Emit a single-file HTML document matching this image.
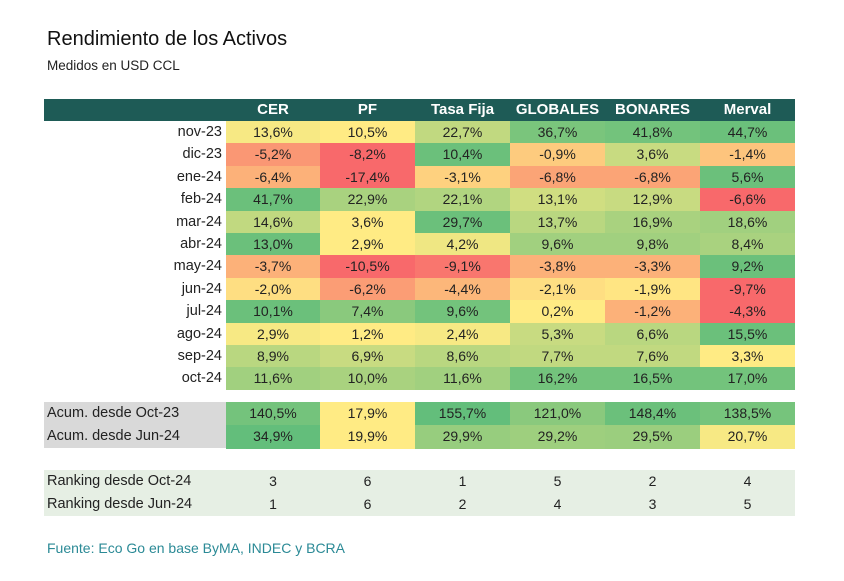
<!DOCTYPE html>
<html><head><meta charset="utf-8"><style>
body{margin:0;background:#fff;width:844px;height:581px;overflow:hidden;font-family:"Liberation Sans","DejaVu Sans",sans-serif;position:relative}
.t{position:absolute;white-space:nowrap}
.cell{position:absolute;text-align:center;font-size:14px;color:#222;box-sizing:border-box}
</style></head><body>
<div class="t" style="left:47px;top:28px;font-size:20px;color:#111">Rendimiento de los Activos</div>
<div class="t" style="left:47px;top:58px;font-size:13.5px;color:#222">Medidos en USD CCL</div>
<div id="tbl"></div>
<div class="t" style="left:47px;top:540px;font-size:14px;color:#2b8a96">Fuente: Eco Go en base ByMA, INDEC y BCRA</div>
<script>
const assets=["CER","PF","Tasa Fija","GLOBALES","BONARES","Merval"];
const months=["nov-23","dic-23","ene-24","feb-24","mar-24","abr-24","may-24","jun-24","jul-24","ago-24","sep-24","oct-24"];
const CER=[13.6,-5.2,-6.4,41.7,14.6,13.0,-3.7,-2.0,10.1,2.9,8.9,11.6];
const PF=[10.5,-8.2,-17.4,22.9,3.6,2.9,-10.5,-6.2,7.4,1.2,6.9,10.0];
const TASA=[22.7,10.4,-3.1,22.1,29.7,4.2,-9.1,-4.4,9.6,2.4,8.6,11.6];
const GLOBALES=[36.7,-0.9,-6.8,13.1,13.7,9.6,-3.8,-2.1,0.2,5.3,7.7,16.2];
const BONARES=[41.8,3.6,-6.8,12.9,16.9,9.8,-3.3,-1.9,-1.2,6.6,7.6,16.5];
const MERVAL=[44.7,-1.4,5.6,-6.6,18.6,8.4,9.2,-9.7,-4.3,15.5,3.3,17.0];
const acumLabels=["Acum. desde Oct-23","Acum. desde Jun-24"];
const acumOct=[140.5,17.9,155.7,121.0,148.4,138.5];
const acumJun=[34.9,19.9,29.9,29.2,29.5,20.7];
const rankLabels=["Ranking desde Oct-24","Ranking desde Jun-24"];
const rankOct=[3,6,1,5,2,4];
const rankJun=[1,6,2,4,3,5];
// colour level per cell as shown in the source (-1 red, 0 yellow, 1 green)
const colorLevels=[
[0.05,0,0.4,0.85,0.9,0.95],
[-0.65,-1,0.95,-0.25,0.35,-0.3],
[-0.45,-1,-0.2,-0.55,-0.55,0.95],
[0.95,0.55,0.5,0.3,0.35,-1],
[0.4,0,0.95,0.45,0.55,0.6],
[0.95,0,0.1,0.6,0.6,0.55],
[-0.45,-1,-0.9,-0.45,-0.45,0.95],
[-0.1,-0.6,-0.4,-0.1,-0.05,-1],
[0.95,0.75,0.9,0,-0.45,-1],
[0.05,0,0.05,0.35,0.45,0.95],
[0.45,0.35,0.45,0.4,0.4,0],
[0.6,0.55,0.6,0.9,0.9,0.9]];

const cols=[CER,PF,TASA,GLOBALES,BONARES,MERVAL];
const root=document.getElementById('tbl');
const colX=[226,320,415,510,605,700,795];
const R=[248,105,107],Y=[255,235,132],G=[99,190,123];
function mix(a,b,t){return 'rgb('+a.map((v,i)=>Math.round(v+(b[i]-v)*t)).join(',')+')';}
function lvl(l){return l<0?mix(Y,R,-l):mix(Y,G,l);}
function scale2(vals){const mn=Math.min(...vals),mx=Math.max(...vals);return vals.map(v=>mix(Y,G,(v-mn)/((mx-mn)||1)));}
function fmt(v){return v.toFixed(1).replace('.',',')+'%';}
function div(css,txt){const d=document.createElement('div');d.className='cell';d.style.cssText=css;if(txt!==undefined)d.textContent=txt;root.appendChild(d);return d;}

const hdr=div('left:44px;top:99px;width:751px;height:22px;background:#1e5b56');


assets.forEach((a,j)=>{const d=div(`left:${colX[j]}px;top:99px;width:${colX[j+1]-colX[j]}px;height:22px;line-height:22px;color:#fff;font-weight:bold;font-size:15px`,a);
 
 });

const rh=22.4,top0=121;
months.forEach((m,i)=>{const y=top0+i*rh;
 const l=div(`left:44px;top:${y}px;width:178px;height:${rh}px;line-height:${rh}px;text-align:right;font-size:14.5px`,m);
 
 
 cols.forEach((c,j)=>{const v=c[i];const d=div(`left:${colX[j]}px;top:${y}px;width:${colX[j+1]-colX[j]}px;height:${rh+0.5}px;line-height:${rh}px;background:${lvl(colorLevels[i][j])}`,fmt(v));
  
  });
});

[acumOct,acumJun].forEach((vals,i)=>{const y=402+i*23;const cs=scale2(vals);
 const l=div(`left:44px;top:${y}px;width:182px;height:23px;line-height:23px;text-align:left;padding-left:3px;background:#d9d9d9;font-size:14.5px`,acumLabels[i]);
 
 
 vals.forEach((v,j)=>{const d=div(`left:${colX[j]}px;top:${y}px;width:${colX[j+1]-colX[j]}px;height:23.5px;line-height:23px;background:${cs[j]}`,fmt(v));
  
  });
});

const rb=div('left:44px;top:470px;width:751px;height:46px;background:#e6efe4');


[rankOct,rankJun].forEach((vals,i)=>{const y=470+i*23;
 const l=div(`left:44px;top:${y}px;width:182px;height:23px;line-height:23px;text-align:left;padding-left:3px;font-size:14.5px`,rankLabels[i]);
 
 
 vals.forEach((v,j)=>{const d=div(`left:${colX[j]}px;top:${y}px;width:${colX[j+1]-colX[j]}px;height:23px;line-height:23px`,String(v));
  
  });
});
</script>
</body></html>
